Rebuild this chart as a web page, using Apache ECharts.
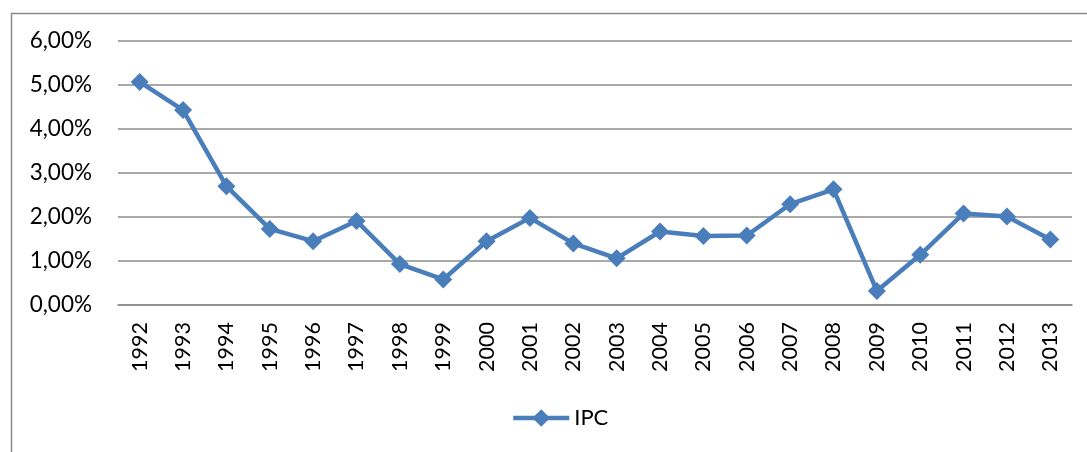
<!DOCTYPE html>
<html>
<head>
<meta charset="utf-8">
<script src="https://cdn.jsdelivr.net/npm/echarts@6/dist/echarts.min.js"></script>
<style>
  html, body { margin: 0; padding: 0; background: #fff; }
  #chart { width: 1087px; height: 452px; }
</style>
</head>
<body>
<div id="chart"></div>
<script>
// Annual inflation (IPC), 1992–2013, in percent
const years = ['1992','1993','1994','1995','1996','1997','1998','1999','2000','2001','2002',
               '2003','2004','2005','2006','2007','2008','2009','2010','2011','2012','2013'];
const ipc = [5.07, 4.43, 2.70, 1.73, 1.45, 1.91, 0.93, 0.58, 1.45, 1.98, 1.40,
             1.06, 1.67, 1.57, 1.58, 2.29, 2.63, 0.32, 1.14, 2.08, 2.01, 1.49];
const yTicks = [0, 1, 2, 3, 4, 5, 6];

const FONT = 'Lato, "Open Sans", "DejaVu Sans", sans-serif';
const BLUE = '#4a7ebb';
const GRID_GREY = '#8c8c8c';

const chart = echarts.init(document.getElementById('chart'));
chart.setOption({
  animation: false,
  backgroundColor: '#ffffff',
  graphic: [{
    type: 'rect',
    left: 9, top: 11,
    shape: { width: 1200, height: 600 },
    style: { fill: 'none', stroke: '#8a8a8a', lineWidth: 1.5 },
    silent: true
  }],
  grid: { left: 118, right: 15, top: 41, bottom: 147, containLabel: false },
  xAxis: {
    type: 'category',
    data: years,
    boundaryGap: true,
    axisLine: { show: true, lineStyle: { color: GRID_GREY, width: 1.5 } },
    axisTick: { show: false },
    axisLabel: {
      rotate: 90, margin: 17, color: '#000',
      fontFamily: FONT, fontSize: 21.5, interval: 0
    }
  },
  yAxis: {
    type: 'value',
    min: yTicks[0], max: yTicks[yTicks.length - 1], interval: 1,
    axisLine: { show: false },
    axisTick: { show: false },
    splitLine: { lineStyle: { color: GRID_GREY, width: 1.5 } },
    axisLabel: {
      margin: 26, color: '#000', fontFamily: FONT, fontSize: 22.5,
      formatter: v => v.toFixed(2).replace('.', ',') + '%'
    }
  },
  legend: {
    data: ['IPC'],
    bottom: 18, left: 506,
    itemWidth: 56, itemHeight: 22, itemGap: 4,
    lineStyle: { width: 4.5 },
    textStyle: { color: '#000', fontFamily: FONT, fontSize: 22 }
  },
  series: [{
    name: 'IPC',
    type: 'line',
    data: ipc,
    symbol: 'diamond',
    symbolSize: 18,
    lineStyle: { color: BLUE, width: 4.5 },
    itemStyle: { color: BLUE },
    emphasis: { disabled: true }
  }]
});
</script>
</body>
</html>
